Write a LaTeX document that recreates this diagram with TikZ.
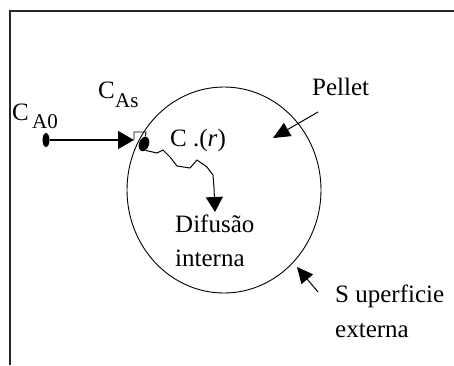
\documentclass[tikz,border=0pt]{standalone}
\usepackage{fontspec}
\setmainfont{Liberation Serif}
\usetikzlibrary{arrows.meta,shapes.geometric}
\tikzset{
  lbl/.style={inner sep=0pt, anchor=base west, font=\fontsize{25}{34}\selectfont},
  sublbl/.style={inner sep=0pt, anchor=base west, font=\fontsize{21}{26}\selectfont},
  conn/.style={line width=1.4pt, -{Triangle[length=16pt,width=18pt]}},
  thin/.style={line width=0.9pt},
}
\begin{document}
\begin{tikzpicture}[x=1pt,y=-1pt]
\useasboundingbox (0,0) rectangle (454,365);
% frame (top and left edges visible)
\draw[line width=2pt, black!85] (454,11) -- (10,11) -- (10,365);
% pellet
\coordinate (pc) at (224,190);
\draw[thin] (pc) ellipse [x radius=97, y radius=103];
% labels
\node[lbl] (ca0) at (12,120) {C};
\node[sublbl] (ca0s) at (32,128) {A0};
\node[lbl] (cas) at (98,98) {C};
\node[sublbl] (cass) at (115,107) {As};
\node[lbl] (cr) at (170,146) {C .(\textit{r})};
\node[lbl] (pel) at (312,95) {Pellet};
\node[lbl] (dif) at (175,232) {Difusão};
\node[lbl] (int) at (175,266) {interna};
\node[lbl] (sup) at (335,302) {S uperficie};
\node[lbl] (ext) at (335,337) {externa};
% bulk point and surface point
\node[fill=black, ellipse, minimum width=7pt, minimum height=14pt, inner sep=0pt] (p0) at (46,140) {};
\coordinate (ah) at (134,140);
\node[fill=black, ellipse, minimum width=10pt, minimum height=15pt, inner sep=0pt, rotate=-20] (ps) at (144,144) {};
\draw[conn] (p0) -- (ah);
\draw[thin] (ah) -- (134,132) -- (146,132) -- (ps);
% internal diffusion wavy path
\coordinate (dt) at (215,212);
\draw[line width=1pt, -{Triangle[length=15pt,width=17pt]}] (ps.south east) -- (157,153) -- (163,150) -- (170,157) -- (177,166) -- (190,168) -- (197,160) -- (207,167) -- (213,175) -- (214,188) -- (dt);
% pellet arrow
\coordinate (pt) at (318,112);
\coordinate (ph) at (273,138);
\draw[line width=1pt, -{Triangle[length=17pt,width=15pt]}] (pt) -- (ph);
% surface arrow
\coordinate (st) at (318,292);
\coordinate (sh) at (297,267);
\draw[line width=1pt, -{Triangle[length=16pt,width=15pt]}] (st) -- (sh);
\end{tikzpicture}
\end{document}
